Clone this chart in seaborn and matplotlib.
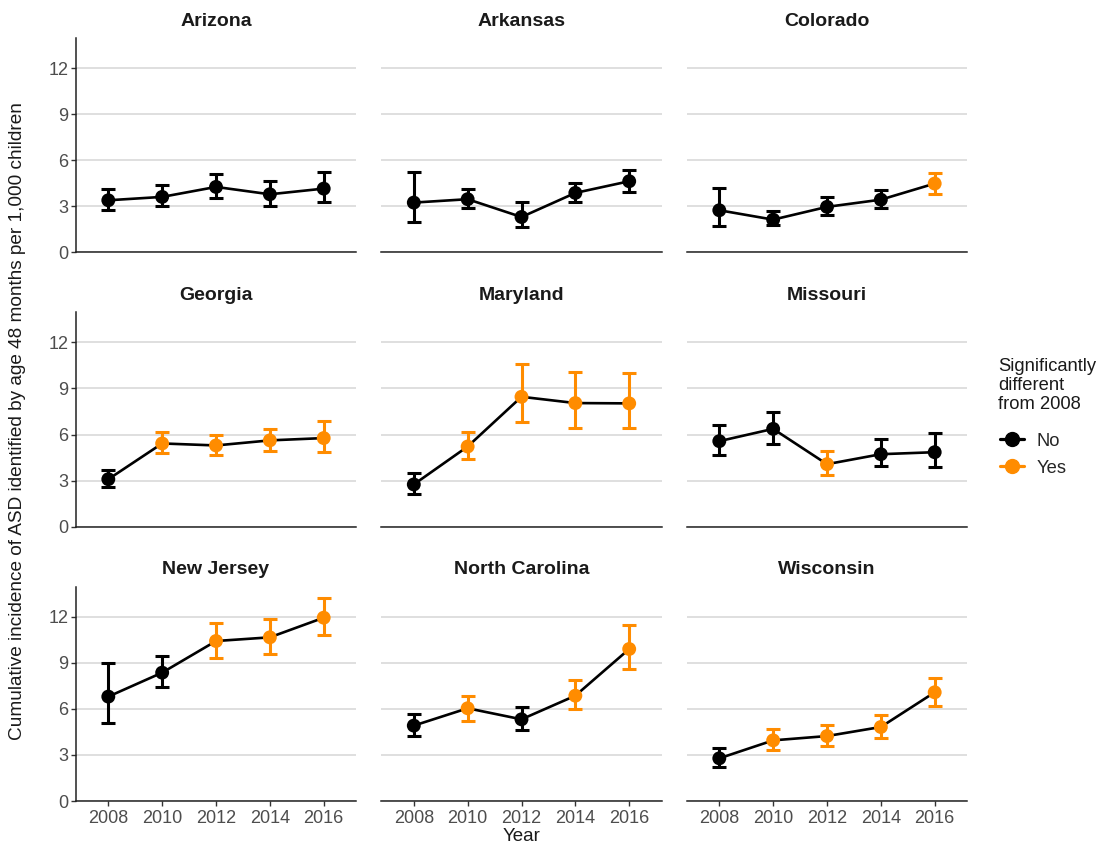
import numpy as np
import pandas as pd
import seaborn as sns
import matplotlib.pyplot as plt
from matplotlib.lines import Line2D

years = ["2008", "2010", "2012", "2014", "2016"]
sites = ["Arizona", "Arkansas", "Colorado",
         "Georgia", "Maryland", "Missouri",
         "New Jersey", "North Carolina", "Wisconsin"]

# cumulative incidence per 1,000 children with 95% CI bounds, and whether
# each year differs significantly from 2008
arizona_rate = [3.39, 3.61, 4.26, 3.78, 4.15]
arizona_low = [2.78, 3.00, 3.52, 3.04, 3.28]
arizona_high = [4.15, 4.38, 5.09, 4.63, 5.22]
arizona_sig = ["No", "No", "No", "No", "No"]

arkansas_rate = [3.24, 3.46, 2.30, 3.87, 4.63]
arkansas_low = [2.00, 2.89, 1.65, 3.26, 3.93]
arkansas_high = [5.26, 4.13, 3.30, 4.54, 5.35]
arkansas_sig = ["No", "No", "No", "No", "No"]

colorado_rate = [2.74, 2.13, 2.96, 3.43, 4.48]
colorado_low = [1.72, 1.80, 2.46, 2.89, 3.78]
colorado_high = [4.20, 2.70, 3.61, 4.09, 5.17]
colorado_sig = ["No", "No", "No", "No", "Yes"]

georgia_rate = [3.09, 5.42, 5.29, 5.62, 5.77]
georgia_low = [2.60, 4.77, 4.66, 4.94, 4.85]
georgia_high = [3.66, 6.18, 6.00, 6.33, 6.87]
georgia_sig = ["No", "Yes", "Yes", "Yes", "Yes"]

maryland_rate = [2.75, 5.22, 8.46, 8.05, 8.03]
maryland_low = [2.14, 4.42, 6.79, 6.44, 6.44]
maryland_high = [3.47, 6.18, 10.57, 10.05, 10.00]
maryland_sig = ["No", "Yes", "Yes", "Yes", "Yes"]

missouri_rate = [5.57, 6.37, 4.07, 4.72, 4.85]
missouri_low = [4.70, 5.39, 3.37, 3.94, 3.88]
missouri_high = [6.59, 7.46, 4.96, 5.68, 6.11]
missouri_sig = ["No", "No", "Yes", "No", "No"]

new_jersey_rate = [6.80, 8.36, 10.42, 10.66, 11.94]
new_jersey_low = [5.10, 7.41, 9.34, 9.60, 10.81]
new_jersey_high = [9.01, 9.45, 11.62, 11.86, 13.20]
new_jersey_sig = ["No", "No", "Yes", "Yes", "Yes"]

north_carolina_rate = [4.91, 6.04, 5.32, 6.86, 9.90]
north_carolina_low = [4.21, 5.23, 4.63, 5.99, 8.58]
north_carolina_high = [5.69, 6.86, 6.14, 7.88, 11.47]
north_carolina_sig = ["No", "Yes", "No", "Yes", "Yes"]

wisconsin_rate = [2.78, 3.95, 4.23, 4.82, 7.08]
wisconsin_low = [2.21, 3.30, 3.56, 4.10, 6.21]
wisconsin_high = [3.43, 4.69, 4.97, 5.62, 8.03]
wisconsin_sig = ["No", "Yes", "Yes", "Yes", "Yes"]

rates = [arizona_rate, arkansas_rate, colorado_rate, georgia_rate, maryland_rate,
         missouri_rate, new_jersey_rate, north_carolina_rate, wisconsin_rate]
lows = [arizona_low, arkansas_low, colorado_low, georgia_low, maryland_low,
        missouri_low, new_jersey_low, north_carolina_low, wisconsin_low]
highs = [arizona_high, arkansas_high, colorado_high, georgia_high, maryland_high,
         missouri_high, new_jersey_high, north_carolina_high, wisconsin_high]
sigs = [arizona_sig, arkansas_sig, colorado_sig, georgia_sig, maryland_sig,
        missouri_sig, new_jersey_sig, north_carolina_sig, wisconsin_sig]

rows = []
for site, r, lo, hi, sg in zip(sites, rates, lows, highs, sigs):
    for i, yr in enumerate(years):
        rows.append({"site": site, "year": yr, "rate": r[i],
                     "low": lo[i], "high": hi[i], "sig": sg[i]})
df = pd.DataFrame(rows)

palette = {"No": "black", "Yes": "#FF8C00"}

sns.set_theme(style="white")
plt.rcParams["font.family"] = ["Liberation Sans", "DejaVu Sans"]

g = sns.FacetGrid(df, col="site", col_wrap=3, col_order=sites,
                  sharex=True, sharey=True, despine=False)
fig = g.figure
fig.set_size_inches(11.09, 8.52)
fig.set_dpi(100)


def draw_panel(data, **kws):
    ax = plt.gca()
    sns.lineplot(data=data, x="year", y="rate", color="black", linewidth=1.9,
                 sort=False, ax=ax, zorder=2)
    for level, col in palette.items():
        sub = data[data["sig"] == level]
        if len(sub):
            ax.errorbar(sub["year"], sub["rate"],
                        yerr=[sub["rate"] - sub["low"], sub["high"] - sub["rate"]],
                        fmt="none", ecolor=col, elinewidth=2.2, capsize=5.0,
                        capthick=2.2, zorder=3)
    sns.scatterplot(data=data, x="year", y="rate", hue="sig", palette=palette,
                    s=100, linewidth=0, legend=False, ax=ax, zorder=4)


g.map_dataframe(draw_panel)
g.set_axis_labels("", "")

fig.subplots_adjust(left=76 / 1109, right=967 / 1109,
                    bottom=1 - 801 / 852, top=1 - 38 / 852,
                    wspace=0.091, hspace=0.28)

axes = g.axes.flatten()
for idx, (ax, site) in enumerate(zip(axes, sites)):
    row, col = divmod(idx, 3)
    ax.set_xlim(-0.6, 4.6)
    ax.set_ylim(0, 13.96)
    ax.set_yticks([0, 3, 6, 9, 12])
    ax.set_title(site, fontsize=14, fontweight="bold", color="#1a1a1a", pad=9)
    ax.set_xlabel("")
    ax.set_ylabel("")
    ax.yaxis.grid(True, color="#dcdcdc", linewidth=1.3)
    ax.xaxis.grid(False)
    ax.set_axisbelow(True)
    for side in ["top", "right"]:
        ax.spines[side].set_visible(False)
    ax.spines["bottom"].set_color("#222222")
    ax.spines["bottom"].set_linewidth(1.1)
    ax.spines["left"].set_color("#222222")
    ax.spines["left"].set_linewidth(1.1)
    ax.spines["left"].set_visible(col == 0)
    ax.tick_params(axis="y", left=(col == 0), labelleft=(col == 0), length=3.5,
                   width=1.0, color="#333333", labelsize=13, labelcolor="#4d4d4d", pad=2)
    ax.tick_params(axis="x", bottom=(row == 2), labelbottom=(row == 2), length=3.5,
                   width=1.0, color="#333333", labelsize=13, labelcolor="#4d4d4d", pad=3)

axes[7].set_xlabel("Year", fontsize=13.5, color="#1a1a1a", labelpad=1)

fig.text(18 / 1109, 1 - 421 / 852,
         "Cumulative incidence of ASD identified by age 48 months per 1,000 children",
         rotation=90, ha="center", va="center", fontsize=13.7, color="#1a1a1a")

# legend title drawn separately so the gap to the keys can be set freely
fig.text(998 / 1109, 1 - 358 / 852, "Significantly\ndifferent\nfrom 2008",
         ha="left", va="top", fontsize=13.2, color="#1a1a1a", linespacing=1.17)

handles = [Line2D([0], [0], color=palette[k], marker="o", markersize=10,
                  linewidth=2.3) for k in ["No", "Yes"]]
fig.legend(handles, ["No", "Yes"],
           loc="upper left", bbox_to_anchor=(985 / 1109, 1 - 418 / 852),
           frameon=False, fontsize=13.2, handlelength=1.3, handletextpad=0.7,
           labelspacing=0.55, borderpad=0.3)

fig.savefig("out.png", dpi=100)
